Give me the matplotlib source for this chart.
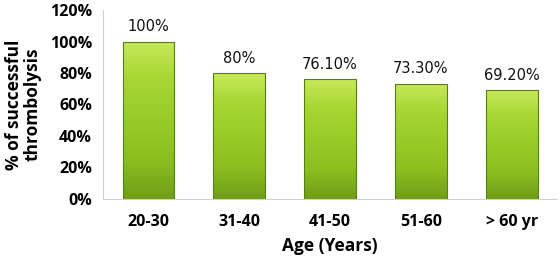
import numpy as np
import matplotlib
matplotlib.use("Agg")
import matplotlib.pyplot as plt
from matplotlib.colors import LinearSegmentedColormap
from matplotlib.ticker import FuncFormatter

age_groups = ["20-30", "31-40", "41-50", "51-60", "> 60 yr"]
success_pct = [100, 80, 76.1, 73.3, 69.2]
value_labels = ["100%", "80%", "76.10%", "73.30%", "69.20%"]

fig = plt.figure(figsize=(5.6, 2.58), dpi=100)
ax = fig.add_axes([0.184, 0.229, 0.811, 0.732])

x = np.arange(len(age_groups))
bars = ax.bar(x, success_pct, width=0.57, color="#8fc21e", edgecolor="#557f14", linewidth=0.8, zorder=2)

# vertical gradient inside each bar
cmap = LinearSegmentedColormap.from_list("grn", ["#6f9e18", "#8bbf20", "#97cc28", "#a6d632", "#c8e85a"])
grad = np.linspace(0, 1, 256).reshape(-1, 1)
for b in bars:
    x0, w, h = b.get_x(), b.get_width(), b.get_height()
    im = ax.imshow(grad, cmap=cmap, aspect="auto", origin="lower",
                   extent=[x0, x0 + w, 0, h], zorder=2)
    im.set_clip_path(b)
    b.set_facecolor("none")
    b.set_zorder(3)

for xi, v, lab in zip(x, success_pct, value_labels):
    ax.text(xi, v + 4.5, lab, ha="center", va="bottom", fontsize=10.5,
            family="DejaVu Sans", color="#111111")

ax.set_xlim(-0.5, len(age_groups) - 0.5)
ax.set_ylim(0, 120)
ax.set_yticks(range(0, 121, 20))
ax.yaxis.set_major_formatter(FuncFormatter(lambda v, p: f"{int(v)}%"))
ax.set_xticks(x)
ax.set_xticklabels(age_groups)
for lab in ax.get_xticklabels() + ax.get_yticklabels():
    lab.set_fontfamily("Open Sans")
    lab.set_fontweight("bold")
    lab.set_fontsize(11.5)
ax.tick_params(length=0, pad=8)
ax.tick_params(axis="x", pad=11)

for s in ["top", "right"]:
    ax.spines[s].set_visible(False)
for s in ["left", "bottom"]:
    ax.spines[s].set_color("#d0d0d0")

ax.set_xlabel("Age (Years)", fontfamily="Open Sans", fontweight="bold", fontsize=12.5, labelpad=5)
ax.set_ylabel("% of successful\nthrombolysis", fontfamily="Open Sans", fontweight="bold",
              fontsize=12.5, labelpad=6, linespacing=1.0)

fig.savefig("out.png", dpi=100)
